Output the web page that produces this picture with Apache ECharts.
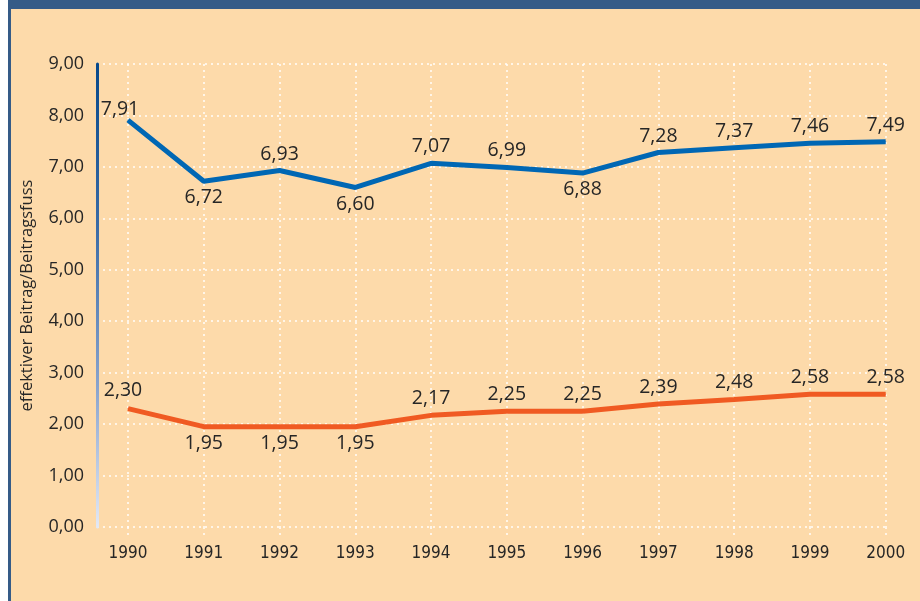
<!DOCTYPE html>
<html>
<head>
<meta charset="utf-8">
<script src="https://cdn.jsdelivr.net/npm/echarts@6/dist/echarts.min.js"></script>
<style>
  html, body { margin: 0; padding: 0; background: #ffffff; width: 920px; height: 601px; overflow: hidden; }
  #bg { position: absolute; left: 8px; top: 0; width: 912px; height: 601px; background: #FDDAAA; }
  #topbar { position: absolute; left: 8px; top: 0; width: 912px; height: 9px; background: #355B87; }
  #leftbar { position: absolute; left: 8px; top: 0; width: 3px; height: 601px; background: #355B87; }
  #chart { position: absolute; left: 0; top: 0; width: 920px; height: 601px; }
</style>
</head>
<body>
<div id="bg"></div>
<div id="topbar"></div>
<div id="leftbar"></div>
<div id="chart"></div>
<script>
const years = ['1990','1991','1992','1993','1994','1995','1996','1997','1998','1999','2000'];
const effektiverBeitrag = [7.91, 6.72, 6.93, 6.60, 7.07, 6.99, 6.88, 7.28, 7.37, 7.46, 7.49];
const beitragsfuss = [2.30, 1.95, 1.95, 1.95, 2.17, 2.25, 2.25, 2.39, 2.48, 2.58, 2.58];
const yTickLabels = ['0,00','1,00','2,00','3,00','4,00','5,00','6,00','7,00','8,00','9,00'];
const yAxisName = 'effektiver Beitrag/Beitragsfuss';

const fmt = v => v.toFixed(2).replace('.', ',');
const FONT = '"Open Sans", "Noto Sans", sans-serif';
const TXT = '#262626';

// label placement (styling only)
const blueBelow = [1, 3, 6];
const orangeBelow = [1, 2, 3];

function buildData(values, belowIdx, firstOffset) {
  return values.map((v, i) => {
    const below = belowIdx.includes(i);
    const item = { value: v, label: { position: below ? 'bottom' : 'top' } };
    if (i === 0) item.label.offset = firstOffset;
    return item;
  });
}

const chart = echarts.init(document.getElementById('chart'), null, { renderer: 'canvas' });

const dotted = { color: 'rgba(255,255,255,0.95)', width: 1.5, type: [2, 4] };

const option = {
  animation: false,
  grid: [
    { left: 97, right: 31, top: 64, bottom: 74 },
    { left: 128, right: 34.3, top: 64, bottom: 74 }
  ],
  xAxis: [
    { gridIndex: 0, type: 'value', min: 0, max: 1, show: false },
    {
      gridIndex: 1, type: 'category', data: years, boundaryGap: false,
      axisLine: { show: false },
      axisTick: { show: true, length: 9, lineStyle: dotted },
      splitLine: { show: true, lineStyle: dotted },
      axisLabel: { margin: 18, fontSize: 17, fontFamily: '"DejaVu Sans Condensed", "Liberation Sans Narrow", "Open Sans", sans-serif', color: TXT }
    }
  ],
  yAxis: [
    {
      gridIndex: 0, type: 'value', min: 0, max: 9, interval: 1, offset: 4,
      name: yAxisName, nameLocation: 'middle', nameGap: 57,
      nameTextStyle: { fontSize: 16.5, fontFamily: FONT, color: TXT },
      axisLine: {
        show: true,
        lineStyle: {
          width: 3,
          color: new echarts.graphic.LinearGradient(0, 64, 0, 527, [
            { offset: 0, color: '#08498B' },
            { offset: 0.35, color: '#3A6BA6' },
            { offset: 0.7, color: '#8AA4CD' },
            { offset: 1, color: '#E2E8F5' }
          ], true)
        }
      },
      axisTick: { show: false },
      axisLabel: {
        margin: 9, fontSize: 18, fontFamily: FONT, color: TXT,
        formatter: (v) => yTickLabels[Math.round(v)]
      },
      splitLine: { show: true, lineStyle: dotted }
    },
    { gridIndex: 1, type: 'value', min: 0, max: 9, interval: 1, show: false, splitLine: { show: false } }
  ],
  series: [
    {
      type: 'line', xAxisIndex: 1, yAxisIndex: 1,
      data: buildData(effektiverBeitrag, blueBelow, [-8, 6]),
      symbol: 'circle', symbolSize: 1,
      lineStyle: { color: '#0067B4', width: 5 },
      itemStyle: { color: '#0067B4' },
      label: { show: true, distance: 6, fontSize: 19.5, fontFamily: FONT, color: TXT, formatter: p => fmt(p.value) },
      z: 3
    },
    {
      type: 'line', xAxisIndex: 1, yAxisIndex: 1,
      data: buildData(beitragsfuss, orangeBelow, [-5, -2]),
      symbol: 'circle', symbolSize: 1,
      lineStyle: { color: '#F05A22', width: 5 },
      itemStyle: { color: '#F05A22' },
      label: { show: true, distance: 6, fontSize: 19.5, fontFamily: FONT, color: TXT, formatter: p => fmt(p.value) },
      z: 3
    }
  ]
};
chart.setOption(option);
</script>
</body>
</html>
